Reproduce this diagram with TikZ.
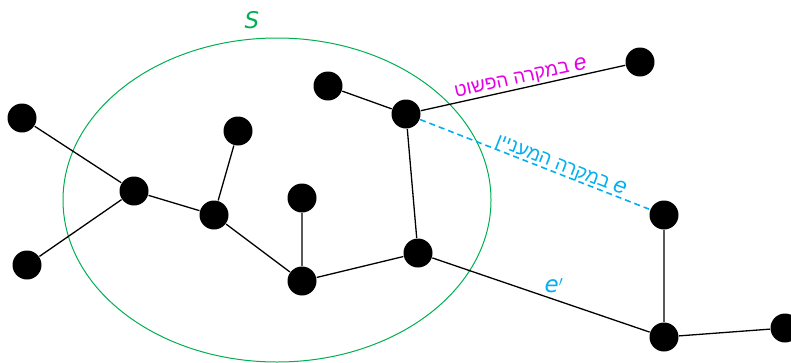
\documentclass[tikz,border=0pt]{standalone}
\usepackage{fontspec}
\setmainfont{DejaVu Sans}
\newfontfamily\hebfont[Script=Hebrew]{Liberation Sans}
\TeXXeTstate=1
\definecolor{setgreen}{RGB}{0,176,80}
\definecolor{simplemag}{RGB}{230,0,230}
\definecolor{casecyan}{RGB}{0,176,240}
\newcommand{\edgee}{{\fontsize{23}{22}\selectfont\textit{e}}}
\tikzset{vtx/.style={circle,fill=black,inner sep=0pt,minimum size=29pt},
lbl/.style={font=\fontsize{19}{22}\selectfont}}
\begin{document}
\begin{tikzpicture}[x=1pt,y=-1pt,line width=1.3pt]
\useasboundingbox (0,0) rectangle (791,362);
\clip (0,0) rectangle (791,362);
\draw[setgreen,line width=1pt] (277,200) ellipse[x radius=214,y radius=162];
\node[lbl,text=setgreen] (S) at (252,20) {\fontsize{23}{22}\selectfont\textit{S}};
\node[vtx] (a1) at (22,118) {};
\node[vtx] (a2) at (27,265) {};
\node[vtx] (b) at (134,191) {};
\node[vtx] (c) at (214,215) {};
\node[vtx] (d) at (238,131) {};
\node[vtx] (f) at (302,198) {};
\node[vtx] (g) at (302,281) {};
\node[vtx] (h) at (418,253) {};
\node[vtx] (i) at (406,114) {};
\node[vtx] (j) at (328,86) {};
\node[vtx] (k) at (640,62) {};
\node[vtx] (l) at (664,215) {};
\node[vtx] (m) at (664,337) {};
\node[vtx] (n) at (785,328) {};
\draw (a1)--(b) (a2)--(b) (b)--(c) (c)--(d) (c)--(g) (f)--(g) (g)--(h)
(h)--(i) (i)--(j) (l)--(m) (m)--(n);
\draw (i)--(k) node[lbl,pos=0.5,above=1pt,sloped,text=simplemag,inner sep=0pt]
{\hebfont\beginR\edgee{} במקרה הפשוט\endR};
\draw[casecyan,dash pattern=on 6pt off 4pt,line width=1.6pt] (i)--(l)
node[lbl,pos=0.6,above=-1pt,sloped,inner sep=0pt]
{\hebfont\beginR\edgee{} במקרה המעניין\endR};
\draw (h)--(m) node[lbl,pos=0.56,above,text=casecyan,inner sep=6pt] {\edgee$'$};
\end{tikzpicture}
\end{document}
